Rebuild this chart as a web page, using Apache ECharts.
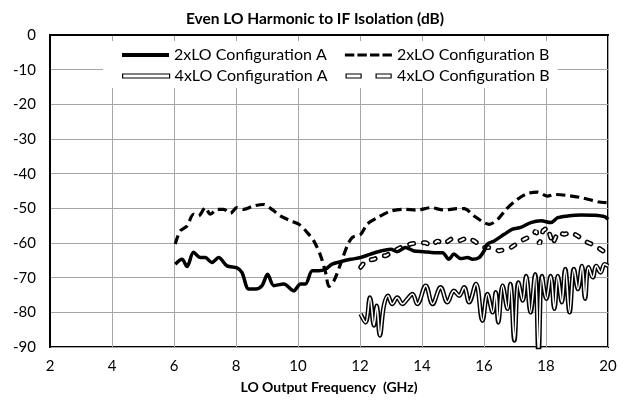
<!DOCTYPE html>
<html>
<head>
<meta charset="utf-8">
<script src="https://cdn.jsdelivr.net/npm/echarts@6/dist/echarts.min.js"></script>
<style>
  html, body { margin: 0; padding: 0; background: #fff; }
  #main { width: 630px; height: 403px; }
</style>
</head>
<body>
<div id="main"></div>
<script>
// 2xLO Configuration A (solid)
var freq2A = [6.04, 6.26, 6.42, 6.63, 6.85, 7.01, 7.22, 7.44, 7.71, 8.03, 8.19, 8.41, 8.63, 8.84, 9.02, 9.22, 9.54, 9.86, 10.08, 10.24, 10.46, 10.67, 10.89, 11.1, 11.37, 11.7, 12.02, 12.34, 12.67, 12.99, 13.2, 13.47, 13.74, 14.06, 14.39, 14.66, 14.87, 15.03, 15.25, 15.47, 15.63, 15.84, 16.0, 16.11, 16.33, 16.65, 16.92, 17.19, 17.51, 17.84, 18.16, 18.38, 18.7, 19.13, 19.56, 19.89, 20.0];
var val2A = [-66.1, -64.7, -66.8, -62.7, -64.2, -64.2, -65.6, -64.2, -66.6, -67.2, -68.5, -73.3, -73.3, -72.3, -69.0, -72.3, -71.8, -73.8, -71.8, -71.8, -68.0, -68.0, -67.5, -66.1, -65.4, -64.7, -64.2, -63.2, -62.3, -61.8, -62.5, -61.3, -62.3, -62.5, -62.8, -62.8, -64.7, -63.2, -64.5, -64.2, -64.7, -64.2, -62.3, -60.3, -59.4, -57.5, -56.0, -55.5, -54.1, -53.6, -54.1, -52.7, -52.2, -51.9, -52.0, -52.4, -53.2];

// 2xLO Configuration B (dashed)
var freq2B = [6.04, 6.2, 6.42, 6.63, 6.79, 7.01, 7.17, 7.39, 7.6, 7.82, 8.03, 8.25, 8.57, 8.89, 9.16, 9.43, 9.76, 10.03, 10.3, 10.51, 10.73, 10.89, 11.0, 11.16, 11.37, 11.59, 11.75, 12.02, 12.23, 12.56, 12.99, 13.42, 13.85, 14.28, 14.71, 15.15, 15.36, 15.68, 16.0, 16.17, 16.44, 16.71, 17.08, 17.41, 17.73, 18.05, 18.27, 18.7, 19.13, 19.67, 20.0];
var val2B = [-60.3, -56.5, -55.1, -51.7, -52.2, -49.8, -51.7, -50.3, -50.3, -51.4, -49.8, -50.3, -49.3, -48.9, -50.3, -52.2, -53.6, -54.6, -57.0, -59.4, -63.7, -68.5, -72.5, -70.9, -66.1, -60.8, -58.4, -57.5, -54.6, -52.7, -50.8, -50.3, -50.5, -49.8, -50.5, -50.1, -50.1, -52.2, -54.1, -54.6, -53.2, -50.3, -47.4, -45.7, -45.3, -46.5, -46.0, -46.3, -46.9, -48.1, -48.4];

// 4xLO Configuration A (double line)
var freq4A = [12.02, 12.18, 12.32, 12.45, 12.54, 12.64, 12.77, 12.9, 13.04, 13.2, 13.37, 13.53, 13.69, 13.85, 14.12, 14.34, 14.6, 14.82, 15.03, 15.2, 15.36, 15.52, 15.74, 15.95, 16.11, 16.28, 16.38, 16.46, 16.6, 16.76, 16.85, 16.98, 17.11, 17.25, 17.36, 17.5, 17.65, 17.76, 17.87, 18.01, 18.15, 18.27, 18.38, 18.51, 18.62, 18.76, 18.9, 19.03, 19.16, 19.26, 19.37, 19.51, 19.62, 19.76, 19.89, 20.0];
var val4A = [-80.5, -82.9, -75.7, -83.8, -78.1, -86.7, -78.1, -75.2, -77.6, -75.7, -77.6, -76.1, -74.7, -77.6, -72.3, -77.6, -72.8, -77.1, -73.8, -75.2, -72.8, -77.1, -71.8, -82.4, -74.7, -80.0, -74.2, -82.9, -72.3, -79.0, -71.8, -88.1, -71.4, -76.6, -69.5, -80.0, -69.0, -92.0, -69.5, -76.1, -69.5, -79.0, -69.5, -77.1, -67.5, -80.0, -67.5, -73.3, -66.6, -76.1, -67.0, -69.9, -66.6, -68.5, -66.1, -66.6];

// 4xLO Configuration B (dashed double line)
var freq4B = [12.02, 12.18, 12.45, 12.67, 12.83, 13.1, 13.31, 13.63, 13.85, 14.12, 14.28, 14.5, 14.71, 14.93, 15.15, 15.47, 15.68, 16.0, 16.22, 16.49, 16.87, 17.19, 17.51, 17.68, 17.79, 17.9, 18.05, 18.22, 18.38, 18.59, 18.81, 19.03, 19.24, 19.46, 19.67, 19.84, 20.0];
var val4B = [-67.0, -65.1, -64.7, -63.7, -63.7, -62.3, -61.3, -60.3, -59.9, -59.9, -60.8, -59.4, -60.3, -58.9, -59.6, -58.4, -59.4, -61.3, -61.3, -62.3, -61.3, -59.4, -58.0, -56.5, -60.3, -56.5, -55.5, -60.3, -56.9, -57.5, -56.9, -58.0, -59.4, -60.3, -61.3, -62.3, -63.7];

var xTicks = [2, 4, 6, 8, 10, 12, 14, 16, 18, 20];
var yTicks = [0, -10, -20, -30, -40, -50, -60, -70, -80, -90];

function pairs (xs, ys) {
  return xs.map(function (x, i) { return [x, ys[i]]; });
}

var FONT = 'Lato, "Liberation Sans", sans-serif';
var chart = echarts.init(document.getElementById('main'), null, { renderer: 'canvas' });

// shared legend look, one legend per row
var legendBase = {
  left: 103,
  backgroundColor: '#fff',
  itemWidth: 47,
  itemHeight: 4,
  itemGap: 18,
  selectedMode: false,
  textStyle: { fontFamily: FONT, fontSize: 16, color: '#000' }
};

chart.setOption({
  animation: false,
  title: {
    text: 'Even LO Harmonic to IF Isolation (dB)',
    left: 'center',
    top: 6,
    textStyle: { fontFamily: FONT, fontSize: 15.5, fontWeight: 'bold', color: '#000' }
  },
  legend: [
    Object.assign({}, legendBase, {
      top: 41,
      padding: [6, 8, 1, 19],
      data: [
        { name: '2xLO Configuration A', icon: 'rect', itemStyle: { color: '#000', borderWidth: 0 } },
        { name: '2xLO Configuration B', icon: 'path://M0,0H9V3H0ZM12,0H21V3H12ZM24,0H33V3H24ZM36,0H45V3H36Z', itemStyle: { color: '#000', borderWidth: 0 } }
      ]
    }),
    Object.assign({}, legendBase, {
      top: 64,
      padding: [4, 8, 4, 19],
      data: [
        { name: '4xLO Configuration A', icon: 'rect', itemStyle: { color: '#fff', borderColor: '#000', borderWidth: 1.2 } },
        { name: '4xLO Configuration B', icon: 'path://M0,0H15V4H0ZM30,0H45V4H30Z', itemStyle: { color: '#fff', borderColor: '#000', borderWidth: 1.2 } }
      ]
    })
  ],
  grid: {
    left: 50, right: 22, top: 35, bottom: 56,
    show: true, borderColor: '#000', borderWidth: 2
  },
  xAxis: {
    type: 'value',
    min: xTicks[0], max: xTicks[xTicks.length - 1], interval: 2,
    name: 'LO Output Frequency  (GHz)',
    nameLocation: 'middle',
    nameGap: 33,
    nameTextStyle: { fontFamily: FONT, fontSize: 14, fontWeight: 'bold', color: '#000' },
    axisLine: { lineStyle: { color: '#000', width: 2 } },
    axisTick: { show: false },
    axisLabel: { margin: 12, fontFamily: FONT, fontSize: 15, color: '#000' },
    splitLine: { lineStyle: { color: '#a6a6a6', width: 1 } }
  },
  yAxis: {
    type: 'value',
    min: yTicks[yTicks.length - 1], max: yTicks[0], interval: 10,
    axisLine: { show: true, lineStyle: { color: '#000', width: 2 } },
    axisTick: { show: false },
    axisLabel: { margin: 14, fontFamily: FONT, fontSize: 15, color: '#000' },
    splitLine: { lineStyle: { color: '#a6a6a6', width: 1 } }
  },
  series: [
    {
      name: '4xLO Configuration A', type: 'line', symbol: 'none', smooth: 0.4,
      lineStyle: { color: '#000', width: 4.5 }, itemStyle: { color: '#000' },
      data: pairs(freq4A, val4A)
    },
    {
      name: '4xLO A inner', type: 'line', symbol: 'none', smooth: 0.4,
      lineStyle: { color: '#fff', width: 1.6 }, itemStyle: { color: '#fff' },
      data: pairs(freq4A, val4A)
    },
    {
      name: '4xLO Configuration B', type: 'line', symbol: 'none',
      lineStyle: { color: '#000', width: 5, type: [4, 10], cap: 'round' }, itemStyle: { color: '#000' },
      data: pairs(freq4B, val4B)
    },
    {
      name: '4xLO B inner', type: 'line', symbol: 'none',
      lineStyle: { color: '#fff', width: 2, type: [4, 10], cap: 'round' }, itemStyle: { color: '#fff' },
      data: pairs(freq4B, val4B)
    },
    {
      name: '2xLO Configuration B', type: 'line', symbol: 'none', smooth: 0.3,
      lineStyle: { color: '#000', width: 3.2, type: [9, 5] }, itemStyle: { color: '#000' },
      data: pairs(freq2B, val2B)
    },
    {
      name: '2xLO Configuration A', type: 'line', symbol: 'none', smooth: 0.3,
      lineStyle: { color: '#000', width: 3.5 }, itemStyle: { color: '#000' },
      data: pairs(freq2A, val2A)
    }
  ]
});
</script>
</body>
</html>
